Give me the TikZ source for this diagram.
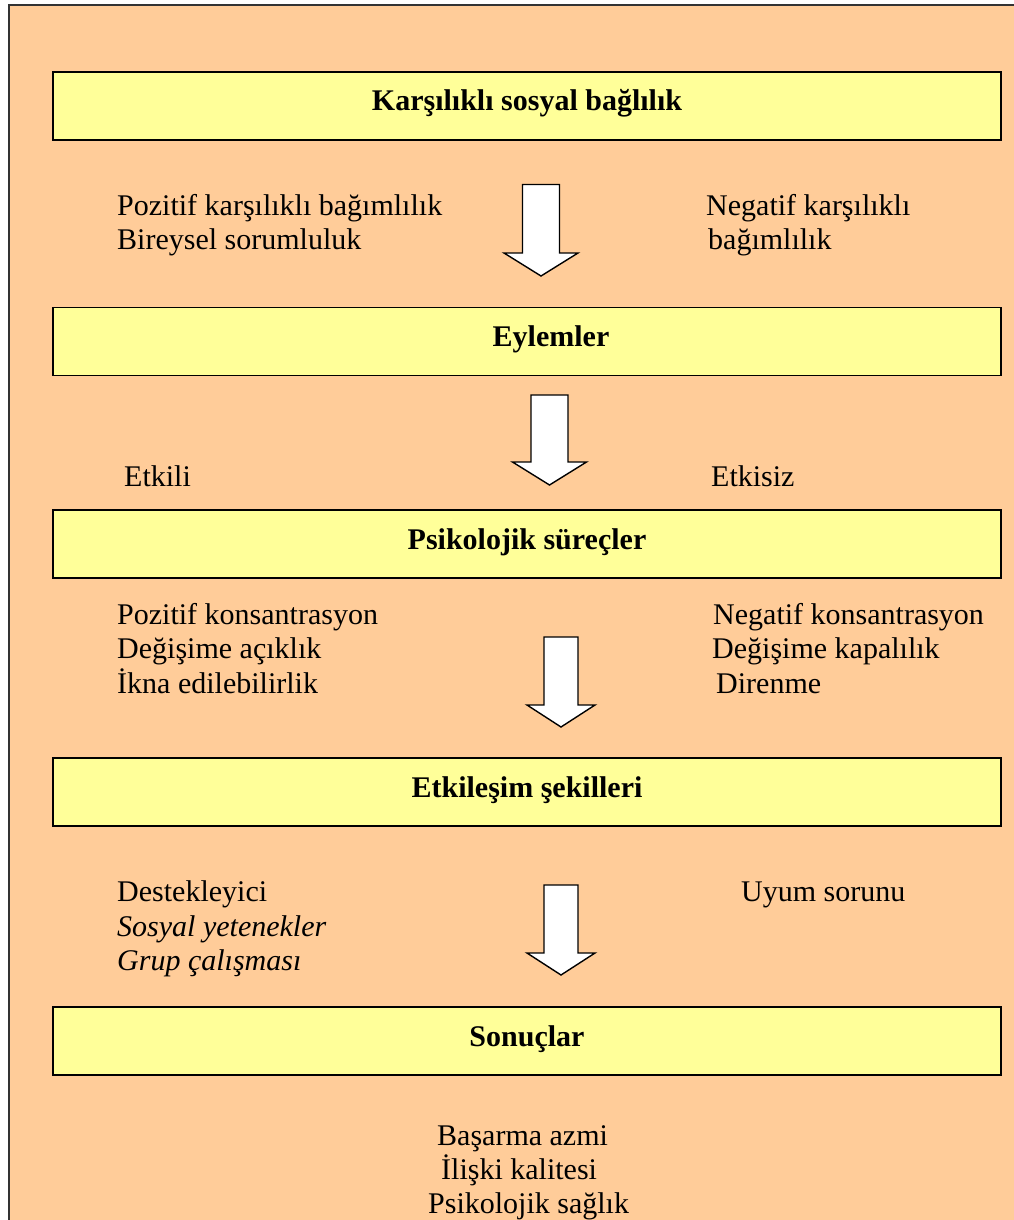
\documentclass[tikz,border=0pt]{standalone}
\usepackage{fontspec}
\setmainfont{Liberation Serif}
\begin{document}
\definecolor{peach}{HTML}{FFCC99}
\definecolor{paleyellow}{HTML}{FFFF99}
\definecolor{framegray}{HTML}{333333}
\begin{tikzpicture}[x=1pt,y=-1pt,
  every node/.style={font=\fontsize{30}{34.5}\selectfont, inner sep=0pt},
  stagebox/.style={draw=black, line width=1.6pt, fill=paleyellow,
    minimum width=948pt, minimum height=68pt, text height=20pt, text depth=10pt,
    font=\fontsize{30}{34.5}\selectfont\bfseries},
  stagetitle/.style={anchor=base, font=\fontsize{30}{34.5}\selectfont\bfseries},
  leftlabel/.style={anchor=base west, align=left},
  blockarrow/.style={draw=black, line width=1.4pt, fill=white, line join=miter}
]
\useasboundingbox (0,0) rectangle (1013,1220);
\fill[white] (0,0) rectangle (1013,1220);
% outer panel
\draw[draw=framegray, line width=2pt, fill=peach] (8.5,5.5) rectangle (1040,1250);

% stages
\node[stagebox] (s1) at (527,106) {Karşılıklı sosyal bağlılık};
\node[stagebox] (s2) at (527,341.5) {};
\node[stagetitle] (s2t) at (551,346.5) {Eylemler};
\node[stagebox] (s3) at (527,544) {Psikolojik süreçler};
\node[stagebox] (s4) at (527,792) {Etkileşim şekilleri};
\node[stagebox] (s5) at (527,1041) {Sonuçlar};

% block arrows between stages
\newcommand\stagearrow[6]{% cx, top, head top, tip, shaft half, head half
  \draw[blockarrow] ({#1-#5},#2) -- ({#1+#5},#2) -- ({#1+#5},#3) -- ({#1+#6},#3)
    -- (#1,#4) -- ({#1-#6},#3) -- ({#1-#5},#3) -- cycle;}
\stagearrow{541}{184.5}{253}{276}{18.5}{37}
\stagearrow{549.5}{395}{462}{485}{18.5}{37}
\stagearrow{561}{637}{705}{727}{17}{34}
\stagearrow{561}{885}{953}{975}{17}{34}

% side labels
\node[leftlabel] (p1) at (117,215) {Pozitif karşılıklı bağımlılık};
\node[leftlabel] (p2) at (117,249.5) {Bireysel sorumluluk};
\node[leftlabel] (n1) at (706,215) {Negatif karşılıklı};
\node[leftlabel] (n2) at (708,249.5) {bağımlılık};

\node[leftlabel] (e1) at (124,486) {Etkili};
\node[leftlabel] (e2) at (711,486) {Etkisiz};

\node[leftlabel] (k1) at (117,624) {Pozitif konsantrasyon};
\node[leftlabel] (k2) at (117,658.5) {Değişime açıklık};
\node[leftlabel] (k3) at (117,693) {İkna edilebilirlik};
\node[leftlabel] (m1) at (713,624) {Negatif konsantrasyon};
\node[leftlabel] (m2) at (712,658.5) {Değişime kapalılık};
\node[leftlabel] (m3) at (716,693) {Direnme};

\node[leftlabel] (d1) at (117,901.5) {Destekleyici};
\node[leftlabel] (d2) at (117,936) {\itshape Sosyal yetenekler};
\node[leftlabel] (d3) at (117,970.5) {\itshape Grup çalışması};
\node[leftlabel] (u1) at (741,901.5) {Uyum sorunu};

\node[leftlabel] (r1) at (437,1145) {Başarma azmi};
\node[leftlabel] (r2) at (441,1179) {İlişki kalitesi};
\node[leftlabel] (r3) at (428,1213) {Psikolojik sağlık};
\end{tikzpicture}
\end{document}
